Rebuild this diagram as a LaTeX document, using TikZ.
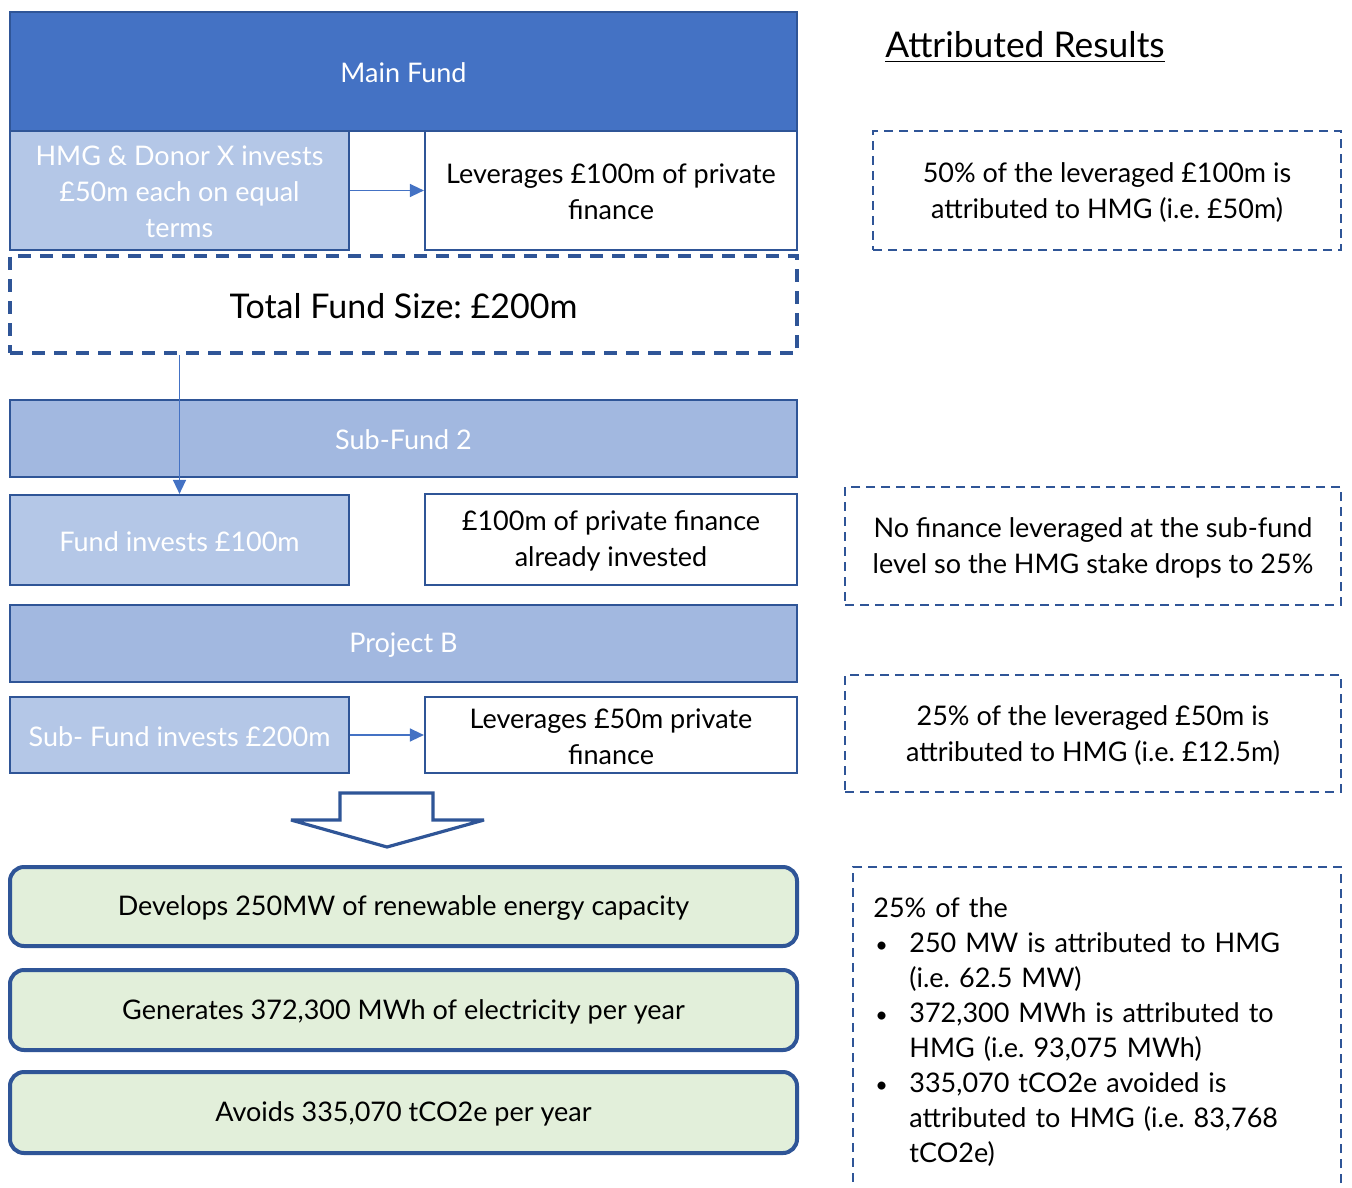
\documentclass[tikz,border=0pt]{standalone}
\usepackage{fontspec}
\setmainfont{Lato}
\usetikzlibrary{fit,arrows.meta}
\definecolor{mainblue}{HTML}{4472C4}
\definecolor{darkblue}{HTML}{2F5597}
\definecolor{lightblue}{HTML}{B4C7E7}
\definecolor{midblue}{HTML}{A2B8E0}
\definecolor{lightgreen}{HTML}{E2EFDA}
\begin{document}
\frenchspacing
\begin{tikzpicture}[x=0.5pt,y=-0.5pt,
  bodytext/.style={font=\fontsize{13.5}{18}\selectfont},
  solidbox/.style={draw=darkblue, line width=1.1pt, inner sep=0pt},
  boxtext/.style={inner sep=0pt, align=center, bodytext, yshift=-0.8pt},
  whitetext/.style={boxtext, text=white},
  bigdash/.style={draw=darkblue, line width=2pt, dash pattern=on 6.5pt off 4.5pt, inner sep=0pt},
  smalldash/.style={draw=darkblue, line width=1pt, dash pattern=on 4.5pt off 3pt, inner sep=0pt},
  greenbox/.style={draw=darkblue, line width=2pt, fill=lightgreen, rounded corners=7pt, inner sep=0pt},
  conn/.style={draw=mainblue, line width=0.7pt, -{Triangle[length=7pt,width=6.5pt]}}
]
\clip (0,0) rectangle (1352,1187);
\fill[white] (0,0) rectangle (1352,1187);

% left column boxes
\node[fit={(10,12)(797,131)}, solidbox, fill=mainblue] (main) {};
\node[fit={(10,131)(349,250)}, solidbox, fill=lightblue] (hmg) {};
\node[fit={(425,131)(797,250)}, solidbox, fill=white] (lev1) {};
\node[fit={(10,256)(797,353)}, bigdash] (total) {};
\node[fit={(10,400)(797,477)}, solidbox, fill=midblue] (sub2) {};
\node[fit={(10,495)(349,585)}, solidbox, fill=lightblue] (fi) {};
\node[fit={(425,494)(797,585)}, solidbox, fill=white] (pf) {};
\node[fit={(10,605)(797,682)}, solidbox, fill=midblue] (projb) {};
\node[fit={(10,697)(349,773)}, solidbox, fill=lightblue] (sfi) {};
\node[fit={(425,697)(797,773)}, solidbox, fill=white] (lev2) {};

% texts
\node[whitetext] (main-t) at (main.center) {Main Fund};
\node[whitetext] (hmg-t) at (hmg.center) {HMG \& Donor X invests\\£50m each on equal\\terms};
\node[boxtext] (lev1-t) at (lev1.center) {Leverages £100m of private\\finance};
\node[boxtext, font=\fontsize{17}{20}\selectfont] (total-t) at (total.center) {Total Fund Size: £200m};
\node[whitetext] (sub2-t) at (sub2.center) {Sub-Fund 2};
\node[whitetext] (fi-t) at (fi.center) {Fund invests £100m};
\node[boxtext] (pf-t) at (pf.center) {£100m of private finance\\already invested};
\node[whitetext] (projb-t) at (projb.center) {Project B};
\node[whitetext] (sfi-t) at (sfi.center) {Sub- Fund invests £200m};
\node[boxtext] (lev2-t) at (lev2.center) {Leverages £50m private\\finance};

\draw[conn] (hmg.east) -- (lev1.west);
\draw[conn] (total.south -| fi.north) -- (fi.north);
\draw[conn] (sfi.east) -- (lev2.west);

% big hollow arrow
\draw[darkblue, line width=1.6pt, fill=white, line join=miter, miter limit=3]
  (340,793) -- (433,793) -- (433,820) -- (484,820) -- (387,847) -- (291,820) -- (340,820) -- cycle;

\node[fit={(10,867)(797,946)}, greenbox] (g1) {};
\node[fit={(10,970)(797,1050)}, greenbox] (g2) {};
\node[fit={(10,1072)(797,1153)}, greenbox] (g3) {};
\node[boxtext] (g1-t) at (g1.center) {Develops 250MW of renewable energy capacity};
\node[boxtext] (g2-t) at (g2.center) {Generates 372,300 MWh of electricity per year};
\node[boxtext] (g3-t) at (g3.center) {Avoids 335,070 tCO2e per year};

% right column
\node[font=\fontsize{17.7}{20}\selectfont, inner sep=0pt] (title) at (1025,47) {\underline{Attributed Results}};
\node[fit={(873,131)(1341,250)}, smalldash] (r1) {};
\node[fit={(845,487)(1341,605)}, smalldash] (r2) {};
\node[fit={(845,675)(1341,792)}, smalldash] (r3) {};
\node[fit={(853,867)(1341,1220)}, smalldash] (r4) {};
\node[boxtext] (r1-t) at (r1.center) {50\% of the leveraged £100m is\\attributed to HMG (i.e. £50m)};
\node[boxtext] (r2-t) at (r2.center) {No finance leveraged at the sub-fund\\level so the HMG stake drops to 25\%};
\node[boxtext] (r3-t) at (r3.center) {25\% of the leveraged £50m is\\attributed to HMG (i.e. £12.5m)};
\node[anchor=north west, inner sep=0pt, text width=235pt, align=left, font=\fontsize{13.5}{17.5}\selectfont] (r4-t) at (873,897)
 {25\% of the\\
  \makebox[18pt][l]{\hspace{1pt}\scalebox{0.8}{•}}250 MW is attributed to HMG\\
  \hspace*{18pt}(i.e. 62.5 MW)\\
  \makebox[18pt][l]{\hspace{1pt}\scalebox{0.8}{•}}372,300 MWh is attributed to\\
  \hspace*{18pt}HMG (i.e. 93,075 MWh)\\
  \makebox[18pt][l]{\hspace{1pt}\scalebox{0.8}{•}}335,070 tCO2e avoided is\\
  \hspace*{18pt}attributed to HMG (i.e. 83,768\\
  \hspace*{18pt}tCO2e)};
\end{tikzpicture}
\end{document}
